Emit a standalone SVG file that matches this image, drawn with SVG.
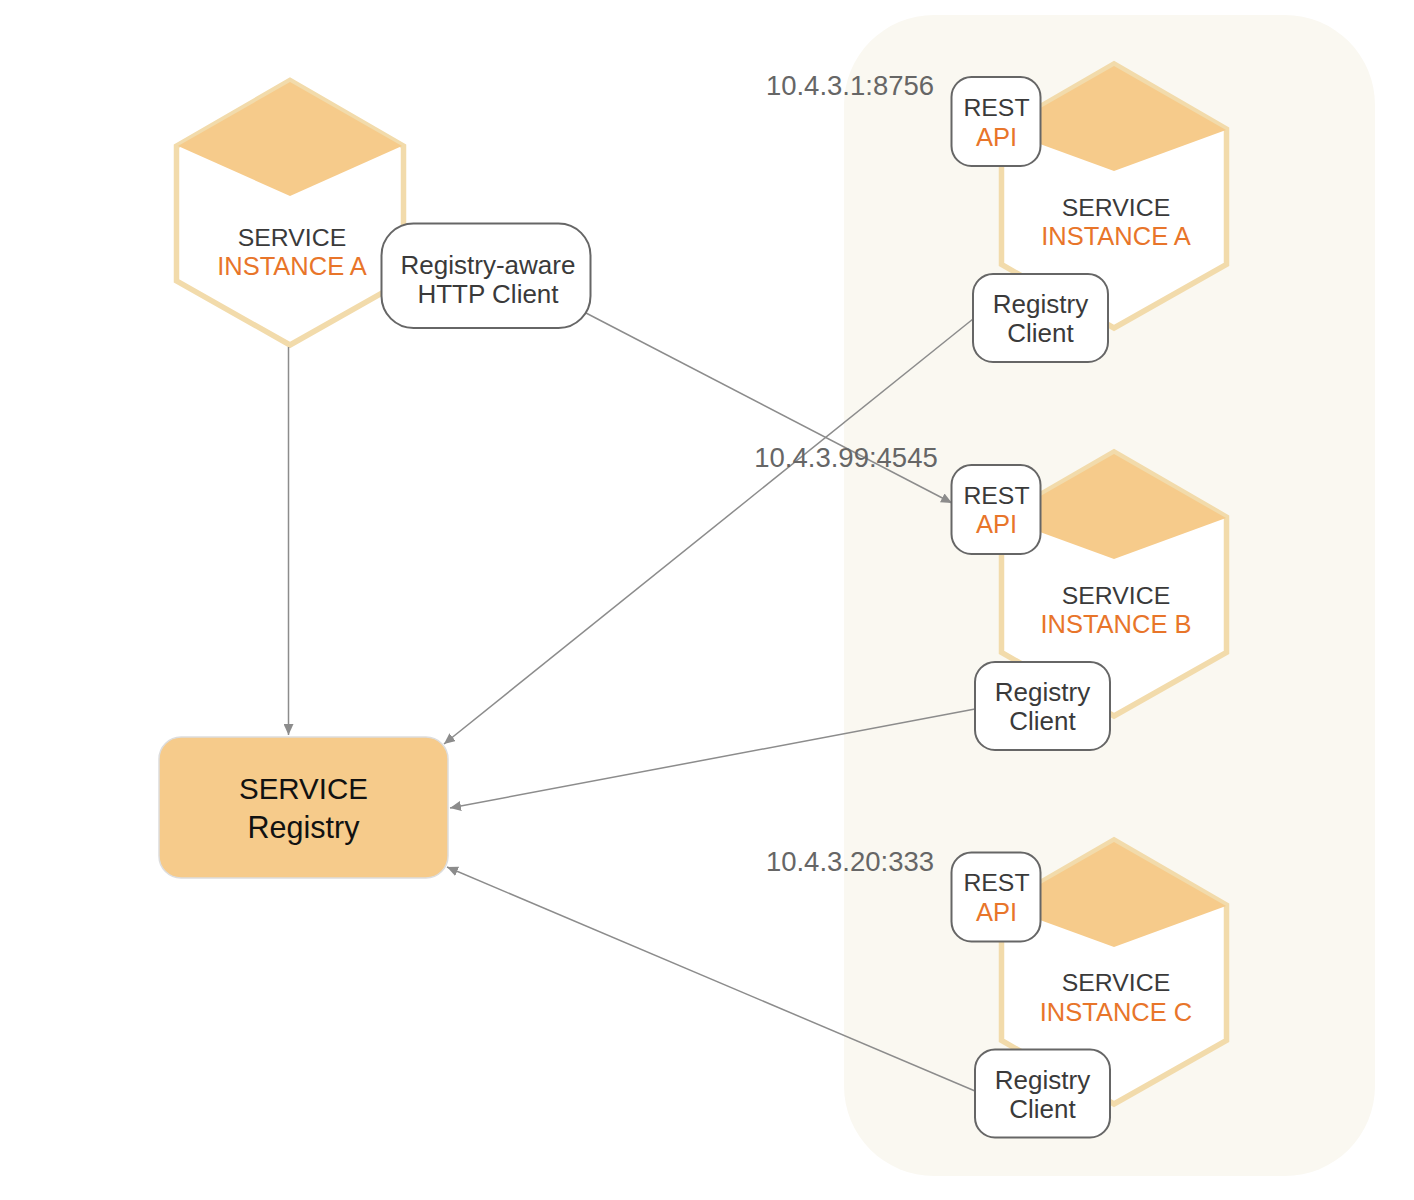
<svg xmlns="http://www.w3.org/2000/svg" width="1414" height="1200" viewBox="0 0 1414 1200">
<defs>
<marker id="arrow" markerUnits="userSpaceOnUse" markerWidth="12" markerHeight="10" refX="11" refY="5" orient="auto"><path d="M0 0L11 5L0 10Z" fill="#8c8c8c"/></marker>
<g id="hex">
<path class="hexb" d="M1114 64L1226.500 129V264.500L1114 328L1001.500 264.500V129Z"/>
<path class="dia" d="M1114 66L1226 130L1114 171L1002 130Z"/>
</g>
</defs>
<style>
text{font-family:"Liberation Sans",Arial,sans-serif;font-size:26px;fill:#3a3a3a;text-anchor:middle}
.o{fill:#e8752a;font-size:25.500px}
.s{font-size:24.800px}
.ip{fill:#666;font-size:27.500px}
.box{fill:#fff;stroke:#666;stroke-width:2}
.hexb{fill:#fff;stroke:#f2dbab;stroke-width:5.500}
.dia{fill:#f6cb8b}
.conn{fill:none;stroke:#8c8c8c;stroke-width:1.500;marker-end:url(#arrow)}
</style>
<rect width="1414" height="1200" fill="#fff"/>
<rect id="zone" x="844" y="15" width="531" height="1161" rx="90" fill="#faf8f1"/>
<g id="hex-left">
<path class="hexb" d="M290 80.500L176.500 146V281L290 345L403.500 281V146Z"/>
<path class="dia" d="M290 82L402 146L290 196L178 146Z"/>
<text x="292" y="246" class="s">SERVICE</text><text x="292" y="275" class="o">INSTANCE A</text>
</g>
<g id="instance-a">
<use href="#hex"/>
<text x="1116" y="215.500" class="s">SERVICE</text><text x="1116" y="244.500" class="o">INSTANCE A</text>
</g>
<g id="instance-b">
<use href="#hex" y="388"/>
<text x="1116" y="603.500" class="s">SERVICE</text><text x="1116" y="632.500" class="o">INSTANCE B</text>
</g>
<g id="instance-c">
<use href="#hex" y="776"/>
<text x="1116" y="990.500" class="s">SERVICE</text><text x="1116" y="1020.500" class="o">INSTANCE C</text>
</g>
<g id="connectors">
<path class="conn" d="M288.500 347V735"/>
<path class="conn" d="M586 313L952 503"/>
<path class="conn" d="M973 319L444 744"/>
<path class="conn" d="M975 709L450 808"/>
<path class="conn" d="M975 1091L447 867"/>
</g>
<g id="http-client">
<rect class="box" x="381.500" y="223.500" width="209" height="104.500" rx="32"/>
<text x="488" y="274">Registry-aware</text><text x="488" y="303">HTTP Client</text>
</g>
<g id="rest-a"><rect class="box" x="951.500" y="77" width="89" height="89" rx="20"/><text x="996.500" y="116" class="s">REST</text><text x="996.500" y="146" class="o">API</text></g>
<g id="rest-b"><rect class="box" x="951.500" y="465" width="89" height="89" rx="20"/><text x="996.500" y="504" class="s">REST</text><text x="996.500" y="533" class="o">API</text></g>
<g id="rest-c"><rect class="box" x="951.500" y="852.500" width="89" height="89" rx="20"/><text x="996.500" y="891" class="s">REST</text><text x="996.500" y="921" class="o">API</text></g>
<g id="client-a"><rect class="box" x="973" y="274" width="135" height="88" rx="20"/><text x="1040.500" y="312.500">Registry</text><text x="1040.500" y="342">Client</text></g>
<g id="client-b"><rect class="box" x="975" y="662" width="135" height="88" rx="20"/><text x="1042.500" y="700.500">Registry</text><text x="1042.500" y="730">Client</text></g>
<g id="client-c"><rect class="box" x="975" y="1049.500" width="135" height="88" rx="20"/><text x="1042.500" y="1088.500">Registry</text><text x="1042.500" y="1118">Client</text></g>
<g id="registry">
<rect x="159" y="737" width="289" height="141" rx="22" fill="#f6cb8b" stroke="#ddd" stroke-width="1.500"/>
<text x="303.500" y="799" style="font-size:29.500px;fill:#111">SERVICE</text>
<text x="303.500" y="838" style="font-size:30.500px;fill:#111">Registry</text>
</g>
<text class="ip" x="850" y="95">10.4.3.1:8756</text>
<text class="ip" x="846" y="467">10.4.3.99:4545</text>
<text class="ip" x="850" y="871">10.4.3.20:333</text>
</svg>
